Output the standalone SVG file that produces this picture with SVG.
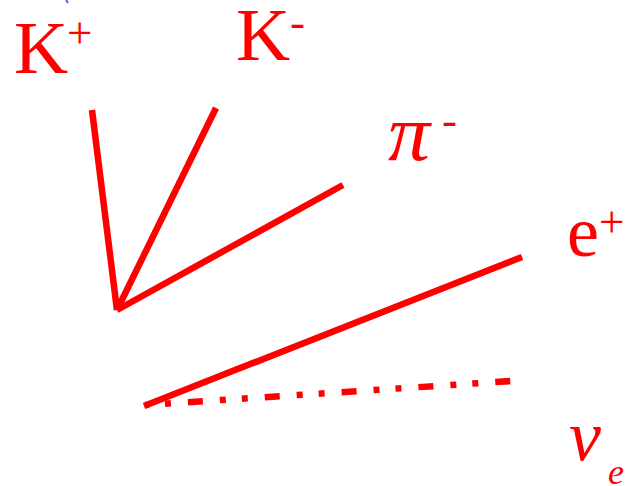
<svg xmlns="http://www.w3.org/2000/svg" width="633" height="486" viewBox="0 0 633 486">
<style>
.t{font-family:"Liberation Serif","Times New Roman",serif;fill:#ff0000}
.i{font-style:italic}
.trk{stroke:#ff0000;stroke-width:6.5;fill:none;stroke-linecap:butt}
.dash{stroke-dasharray:15 17 6 16 6 17;stroke-dashoffset:34}
</style>
<rect width="633" height="486" fill="#ffffff"/>
<line x1="66" y1="0" x2="68" y2="3" stroke="#6a5acd" stroke-width="2"/>
<g id="connectors">
<line class="trk" x1="92" y1="110" x2="117" y2="310"/>
<line class="trk" x1="216" y1="108" x2="117" y2="310"/>
<line class="trk" x1="343" y1="185" x2="117" y2="310"/>
<line class="trk" x1="522" y1="257" x2="144" y2="406"/>
<line class="trk dash" x1="145" y1="405" x2="512" y2="381"/>
</g>
<g id="kplus">
<text class="t" x="14" y="73" font-size="75">K</text>
<text class="t" x="67" y="48" font-size="45">+</text>
</g>
<g id="kminus">
<text class="t" x="236" y="60" font-size="75">K</text>
<text class="t" x="290" y="37" font-size="45">-</text>
</g>
<g id="piminus">
<text class="t i" x="388" y="160" font-size="80" textLength="42" lengthAdjust="spacingAndGlyphs">π</text>
<text class="t" x="442" y="135" font-size="45">-</text>
</g>
<g id="eplus">
<text class="t" x="567" y="256" font-size="72">e</text>
<text class="t" x="599" y="237" font-size="45">+</text>
</g>
<g id="nue">
<text class="t i" x="569" y="460" font-size="72">ν</text>
<text class="t i" x="608" y="484" font-size="36">e</text>
</g>
</svg>
